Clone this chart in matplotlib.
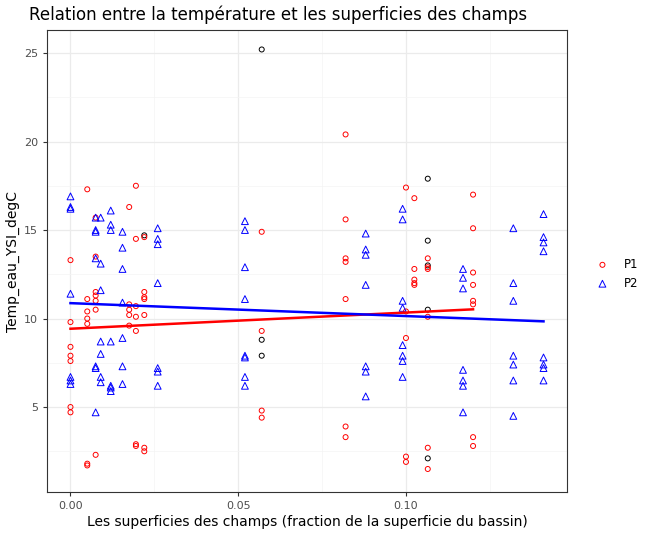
import numpy as np
import matplotlib.pyplot as plt

# P1 (cercles rouges)
p1_x = [0.0]*7 + [0.005]*7 + [0.0075]*7 + [0.0175]*5 + [0.0195]*7 + [0.022]*7 \
    + [0.057]*4 + [0.082]*7 + [0.1]*5 + [0.1025]*5 + [0.1065]*6 + [0.12]*8
p1_y = [13.3, 9.8, 8.4, 7.9, 7.6, 5.0, 4.7,
        17.3, 11.1, 10.4, 10.0, 9.7, 1.8, 1.7,
        15.7, 13.5, 11.5, 11.3, 11.0, 10.5, 2.3,
        16.3, 10.8, 10.5, 10.2, 9.6,
        17.5, 14.5, 10.7, 10.1, 9.3, 2.8, 2.9,
        14.6, 11.5, 11.2, 11.1, 10.2, 2.7, 2.5,
        14.9, 9.3, 4.8, 4.4,
        20.4, 15.6, 13.4, 13.2, 11.1, 3.9, 3.3,
        17.4, 10.4, 8.9, 2.2, 1.9,
        16.8, 12.8, 12.2, 12.0, 11.9,
        13.4, 12.9, 12.8, 10.1, 2.7, 1.5,
        17.0, 15.1, 12.6, 11.9, 11.0, 10.8, 3.3, 2.8]

# P2 (triangles bleus)
p2_x = [0.0]*7 + [0.0075]*7 + [0.009]*7 + [0.012]*7 + [0.0155]*7 + [0.026]*7 \
    + [0.052]*8 + [0.088]*7 + [0.099]*8 + [0.117]*7 + [0.132]*7 + [0.141]*8
p2_y = [16.9, 16.3, 16.2, 11.4, 6.7, 6.5, 6.3,
        15.7, 15.0, 14.9, 13.4, 7.3, 7.2, 4.7,
        15.7, 13.1, 11.6, 8.0, 8.7, 6.4, 6.7,
        16.1, 15.3, 15.0, 8.7, 6.2, 5.9, 6.1,
        14.9, 14.0, 12.8, 10.9, 8.9, 7.3, 6.3,
        15.1, 14.5, 14.2, 12.0, 7.2, 7.0, 6.2,
        15.5, 15.0, 12.9, 11.1, 7.9, 7.8, 6.7, 6.2,
        14.8, 13.9, 13.6, 11.9, 7.3, 7.0, 5.6,
        16.2, 15.6, 11.0, 10.6, 8.5, 7.9, 7.6, 6.7,
        12.8, 12.3, 11.7, 7.1, 6.5, 6.2, 4.7,
        15.1, 12.0, 11.0, 7.9, 7.4, 6.5, 4.5,
        15.9, 14.6, 14.3, 13.8, 7.8, 7.4, 7.2, 6.5]

# points sans groupe (noirs)
na_x = [0.022, 0.057, 0.057, 0.057, 0.1065, 0.1065, 0.1065, 0.1065, 0.1065]
na_y = [14.7, 25.2, 8.8, 7.9, 17.9, 14.4, 13.0, 10.5, 2.1]

fig = plt.figure(figsize=(6.48, 5.37), dpi=100)
ax = fig.add_axes([47/648, 45/537, 520/648, 462/537])

ax.scatter(na_x, na_y, facecolors='none', edgecolors='black', s=13, linewidths=0.7, zorder=3)
ax.scatter(p1_x, p1_y, marker='o', facecolors='none', edgecolors='red', s=13, linewidths=0.7, zorder=3, label='P1')
ax.scatter(p2_x, p2_y, marker='^', facecolors='none', edgecolors='blue', s=24, linewidths=0.7, zorder=3, label='P2')

for xs, ys, col in [(p1_x, p1_y, 'red'), (p2_x, p2_y, 'blue')]:
    a, b = np.polyfit(xs, ys, 1)
    xx = np.array([min(xs), max(xs)])
    ax.plot(xx, a*xx + b, color=col, lw=1.8, zorder=4)

ax.set_xlim(-0.007, 0.148)
ax.set_ylim(0.2, 26.3)
ax.set_xticks([0.0, 0.05, 0.10])
ax.set_xticklabels(['0.00', '0.05', '0.10'])
ax.set_yticks([5, 10, 15, 20, 25])
ax.set_xticks([0.025, 0.075, 0.125], minor=True)
ax.set_yticks([2.5, 7.5, 12.5, 17.5, 22.5], minor=True)
ax.grid(True, which='major', color='#ebebeb', lw=0.9)
ax.grid(True, which='minor', color='#f4f4f4', lw=0.5)
ax.set_axisbelow(True)
ax.tick_params(which='minor', length=0)
ax.tick_params(colors='#4d4d4d', labelsize=8, length=3, color='#333333')
for s in ax.spines.values():
    s.set_color('#333333')
    s.set_linewidth(0.8)

ax.set_xlabel('Les superficies des champs (fraction de la superficie du bassin)', fontsize=10, labelpad=3)
ax.set_ylabel('Temp_eau_YSI_degC', fontsize=10, labelpad=3)
ax.set_title('Relation entre la température et les superficies des champs', fontsize=12, loc='left', x=-0.035, pad=7)

fig.legend(loc='center left', bbox_to_anchor=(580/648, 0.49), frameon=False, fontsize=8.5, handletextpad=0.8)
fig.savefig('out.png', dpi=100)
